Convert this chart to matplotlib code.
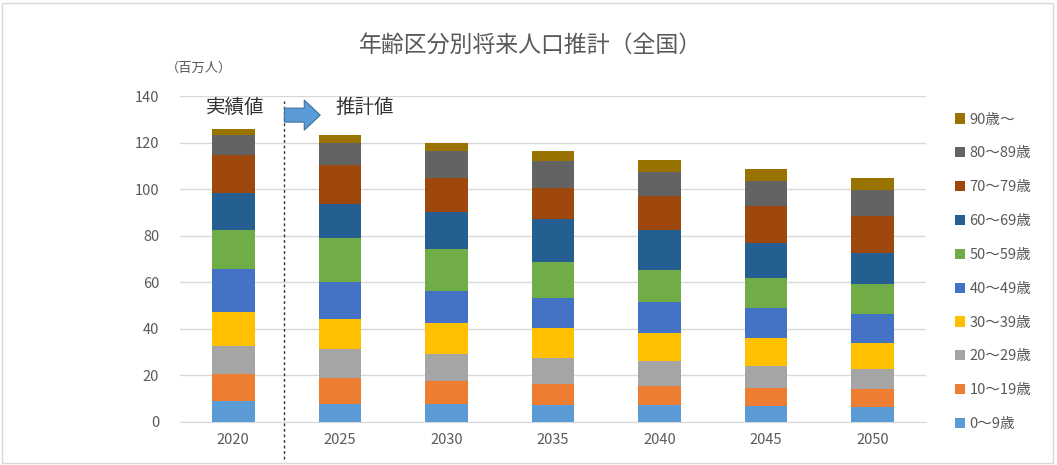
import matplotlib
matplotlib.use('Agg')
import matplotlib.pyplot as plt
from matplotlib.patches import FancyArrow
import numpy as np

plt.rcParams['font.family'] = ['Noto Sans CJK JP', 'DejaVu Sans']

years = ['2020', '2025', '2030', '2035', '2040', '2045', '2050']
age_groups = ['0～9歳', '10～19歳', '20～29歳', '30～39歳', '40～49歳',
              '50～59歳', '60～69歳', '70～79歳', '80～89歳', '90歳～']

# millions of people
age_0_9 = [9.0, 7.9, 7.6, 7.1, 7.1, 6.7, 6.4]
age_10_19 = [11.4, 11.0, 9.8, 9.3, 8.2, 8.0, 7.9]
age_20_29 = [12.3, 12.3, 11.9, 11.2, 10.7, 9.3, 8.4]
age_30_39 = [14.5, 13.1, 13.1, 12.7, 12.3, 12.1, 11.2]
age_40_49 = [18.4, 16.0, 13.7, 12.8, 13.1, 12.8, 12.5]
age_50_59 = [17.0, 18.6, 18.2, 15.8, 13.9, 13.0, 12.9]
age_60_69 = [15.6, 14.7, 16.1, 18.2, 17.3, 14.8, 13.1]
age_70_79 = [16.5, 16.7, 14.6, 13.3, 14.3, 16.2, 15.9]
age_80_89 = [8.5, 9.7, 11.4, 11.7, 10.5, 10.4, 11.4]
age_90_up = [2.5, 3.2, 3.6, 4.3, 5.2, 5.3, 4.9]

series = [age_0_9, age_10_19, age_20_29, age_30_39, age_40_49,
          age_50_59, age_60_69, age_70_79, age_80_89, age_90_up]
colors = ['#5B9BD5', '#ED7D31', '#A5A5A5', '#FFC000', '#4472C4',
          '#70AD47', '#255E91', '#9E480E', '#636363', '#997300']

fig = plt.figure(figsize=(10.57, 4.65), dpi=100)
ax = fig.add_axes([0.1703, 0.0925, 0.7058, 0.701])

x = np.arange(len(years))
bottom = np.zeros(len(years))
for vals, col, lab in zip(series, colors, age_groups):
    ax.bar(x, vals, 0.4, bottom=bottom, color=col, label=lab, zorder=3)
    bottom += np.array(vals)

ax.set_xlim(-0.5, len(years) - 0.5)
ax.set_ylim(0, 140)
ax.set_yticks(range(0, 141, 20))
ax.set_xticks(x)
ax.set_xticklabels(years)
ax.grid(axis='y', color='#D9D9D9', linewidth=1, zorder=0)
for s in ['top', 'right', 'left']:
    ax.spines[s].set_visible(False)
ax.spines['bottom'].set_color('#D9D9D9')
ax.tick_params(axis='both', length=0, colors='#595959', labelsize=10.5)
ax.tick_params(axis='y', pad=15)
ax.tick_params(axis='x', pad=8)

# divider between actual and projected
ax.plot([0.48, 0.48], [-16, 138], linestyle=(0, (2, 2)), color='#333333',
        linewidth=1, clip_on=False, zorder=4)
arr = FancyArrow(0.48, 131.8, 0.336, 0, width=6.0, head_width=12.9,
                 head_length=0.15, length_includes_head=True,
                 fc='#5B9BD5', ec='#41719C', lw=0.8, zorder=5, clip_on=False)
ax.add_patch(arr)
ax.text(0.014, 135, '実績値', ha='center', va='center', fontsize=14, color='#333333')
ax.text(1.23, 135, '推計値', ha='center', va='center', fontsize=14, color='#333333')

fig.text(0.502, 0.903, '年齢区分別将来人口推計（全国）', ha='center', va='center',
         fontsize=16.5, color='#595959')
fig.text(0.188, 0.853, '（百万人）', ha='center', va='center', fontsize=9.5, color='#595959')

handles, labels = ax.get_legend_handles_labels()
leg = fig.legend(handles[::-1], labels[::-1], loc='upper left',
                 bbox_to_anchor=(0.891, 0.786), frameon=False, fontsize=10.5,
                 handlelength=0.7, handleheight=0.7, handletextpad=0.3,
                 labelspacing=1.36, labelcolor='#595959')

# chart area border
fig.patches.append(plt.Rectangle((0.002, 0.004), 0.994, 0.99, transform=fig.transFigure,
                                 fill=False, edgecolor='#D9D9D9', linewidth=1))

fig.savefig('out.png', dpi=100)
